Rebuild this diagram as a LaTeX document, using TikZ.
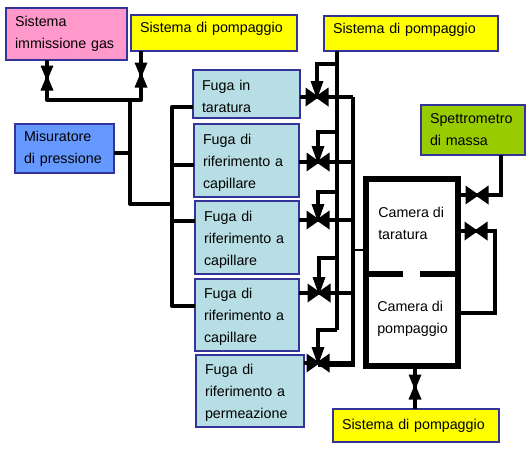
\documentclass[tikz,border=0pt]{standalone}
\usepackage{fontspec}
\setmainfont{Liberation Sans}
\usetikzlibrary{calc,positioning}
\definecolor{rosa}{HTML}{FF99CC}
\definecolor{giallo}{HTML}{FFFF00}
\definecolor{azzurro}{HTML}{6699FF}
\definecolor{acqua}{HTML}{B7DEE4}
\definecolor{verde}{HTML}{99CC00}
\definecolor{bordo}{HTML}{333399}
\tikzset{
  stage/.style 2 args={
    shape = rectangle,
    draw = bordo,
    line width = 1.5pt,
    anchor = north west,
    outer sep = 0pt,
    inner xsep = 6.75pt,
    inner ysep = 0pt,
    align = left,
    minimum width = #1*0.75pt,
    minimum height = #2*0.75pt,
    text width = #1*0.75pt-13.5pt,
    font = \fontsize{10.7}{16.5}\selectfont
  },
  pompa/.style={
    fill = giallo,
    text depth = 8pt
  },
  fuga/.style={
    fill = acqua,
    text height = 11pt
  },
  camera/.style={
    anchor = west,
    inner sep = 0pt,
    align = left,
    font = \fontsize{10.7}{16.5}\selectfont
  },
  pipe/.style={
    line width = 3pt
  },
  pipethin/.style={
    line width = 2.6pt
  },
}
\tikzset{
  gateh/.pic={
    \fill (-11.5,-9.5) -- (2,0) -- (-11.5,9.5) -- cycle;
    \fill (11.5,-9.5) -- (-2,0) -- (11.5,9.5) -- cycle;
  },
  gatet/.pic={
    \fill (-11.5,-9.5) -- (2,0) -- (-11.5,9.5) -- cycle;
    \fill (11.5,-9.5) -- (-2,0) -- (11.5,9.5) -- cycle;
    \fill (-6.5,-16) -- (0,2) -- (6.5,-16) -- cycle;
  },
  gatev/.pic={
    \fill (-6.5,-12.5) -- (0,3) -- (6.5,-12.5) -- cycle;
    \fill (-6.5,12.5) -- (0,-3) -- (6.5,12.5) -- cycle;
  },
}
\begin{document}
\begin{tikzpicture}[x=0.75pt,y=-0.75pt]
\useasboundingbox (0,0) rectangle (532,451);
\node[stage={121}{52}, fill=rosa] (gas) at (6,8) {Sistema\\immissione gas};
\node[stage={166}{36}, pompa] (pompa1) at (131,15) {Sistema di pompaggio};
\node[stage={174}{35}, pompa] (pompa2) at (324,16) {Sistema di pompaggio};
\node[stage={166}{33}, fill=giallo] (pompa3) at (333,409) {Sistema di pompaggio};
\node[stage={99}{49}, fill=azzurro] (misura) at (15,124) {Misuratore\\di pressione};
\node[stage={104}{50}, fill=verde] (massa) at (421,105) {Spettrometro\\di massa};
\node[stage={107}{48}, fuga] (fuga1) at (193,70) {Fuga in\\taratura};
\node[stage={105}{73}, fuga] (fuga2) at (194,124) {Fuga di\\riferimento a\\capillare};
\node[stage={104}{73}, fuga] (fuga3) at (195,201) {Fuga di\\riferimento a\\capillare};
\node[stage={104}{72}, fuga] (fuga4) at (195,279) {Fuga di\\riferimento a\\capillare};
\node[stage={108}{72}, fuga] (fuga5) at (196,355) {Fuga di\\riferimento a\\permeazione};
\node[draw, line width=4.5pt, outer sep=0pt, minimum width=69pt, minimum height=140.25pt] (cella) at (412,272.5) {};
\node[camera] (taratura) at (378,223) {Camera di\\taratura};
\node[camera] (pompaggio) at (377,319) {Camera di\\pompaggio};
\coordinate (setto1) at (cella.west |- 0,274);
\coordinate (setto2) at (403,274);
\coordinate (setto3) at (420,274);
\coordinate (setto4) at (cella.east |- 0,274);
\draw[line width=3.8pt] (setto1) -- (setto2);
\draw[line width=3.8pt] (setto3) -- (setto4);
\coordinate (vgas) at (47,78);
\coordinate (vpompa) at (141,75);
\coordinate (gomito1) at (47,100);
\coordinate (gomito2) at (141,100);
\coordinate (nodo1) at (130,100);
\coordinate (nodo2) at (130,204);
\coordinate (nodo3) at (172,204);
\coordinate (nodo4) at (130,153);
\draw[pipe, line join=round] (gas.south -| vgas) -- (gomito1) -- (gomito2) -- (pompa1.south -| vpompa);
\draw[pipe, line join=round] (nodo1) -- (nodo2) -- (nodo3);
\draw[pipe] (misura.east |- nodo4) -- (nodo4);
\pic at (vgas) {gatev};
\pic at (vpompa) {gatev};
\coordinate (sx1) at (172,107);
\coordinate (sx2) at (172,165);
\coordinate (sx3) at (172,221);
\coordinate (sx4) at (172,306);
\draw[pipe, line join=round] (fuga1.west |- sx1) -- (sx1) -- (sx4) -- (fuga4.west |- sx4);
\draw[pipe] (sx2) -- (fuga2.west |- sx2);
\draw[pipe] (sx3) -- (fuga3.west |- sx3);
\coordinate (dorsale) at (337,51);
\coordinate (scarico) at (353,97);
\coordinate (dorsalefine) at (337,330);
\draw[pipe] (pompa2.south -| dorsale) -- (dorsalefine);
\foreach \n/\x/\y/\r/\f in {1/317/97/64/1, 2/318/162/132/2, 3/318/220/192/3, 4/319/293/258/4, 5/318/363/330/5}{
  \coordinate (v\n) at (\x,\y);
  \coordinate (r\n) at (337,\r);
  \draw[pipe, line join=miter] (r\n) -- (v\n |- r\n) -- (v\n);
  \draw[pipe] (fuga\f.east |- v\n) -- (v\n -| scarico);
  \pic at (v\n) {gatet};
}
\coordinate (scaricofine) at (353,365);
\draw[pipe, line join=miter] (scarico) -- (scaricofine) -- (v5 |- scaricofine);
\coordinate (attacco) at (353,250);
\draw[line width=1.1pt] (attacco) -- (cella.west |- attacco);
\coordinate (vmassa) at (477,195);
\coordinate (gomito3) at (501,195);
\draw[pipe, line join=miter] (massa.south -| gomito3) -- (gomito3) -- (cella.east |- gomito3);
\pic at (vmassa) {gateh};
\coordinate (vby) at (476,231);
\coordinate (gomito4) at (495,231);
\coordinate (gomito5) at (495,313);
\draw[pipethin, line join=miter] (cella.east |- vby) -- (gomito4) -- (gomito5) -- (cella.east |- gomito5);
\pic at (vby) {gateh};
\coordinate (vfondo) at (415,387);
\draw[pipe] (cella.south -| vfondo) -- (pompa3.north -| vfondo);
\pic at (vfondo) {gatev};
\end{tikzpicture}
\end{document}
